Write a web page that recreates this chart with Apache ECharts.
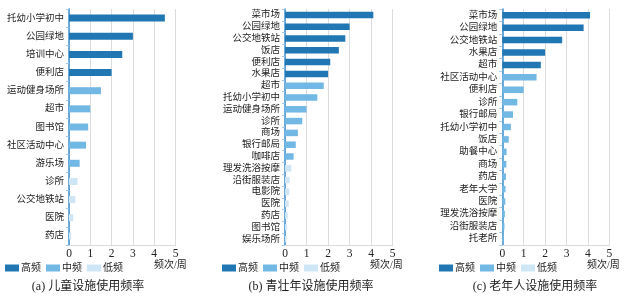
<!DOCTYPE html>
<html><head><meta charset="utf-8">
<script src="https://cdn.jsdelivr.net/npm/echarts@6/dist/echarts.min.js"></script>
<style>html,body{margin:0;padding:0;background:#fff}#c{width:624px;height:299px}</style>
</head><body><div id="c"></div>
<script>
// Panel (a) 儿童
var catsA = ['托幼小学初中','公园绿地','培训中心','便利店','运动健身场所','超市','图书馆','社区活动中心','游乐场','诊所','公交地铁站','医院','药店'];
var valsA = [4.5, 3.0, 2.5, 2.0, 1.5, 1.0, 0.9, 0.8, 0.5, 0.4, 0.3, 0.2, 0.1];
var lvlA  = ['高频','高频','高频','高频','中频','中频','中频','中频','中频','低频','低频','低频','低频'];
// Panel (b) 青壮年
var catsB = ['菜市场','公园绿地','公交地铁站','饭店','便利店','水果店','超市','托幼小学初中','运动健身场所','诊所','商场','银行邮局','咖啡店','理发洗浴按摩','沿街服装店','电影院','医院','药店','图书馆','娱乐场所'];
var valsB = [4.1, 3.0, 2.8, 2.5, 2.1, 2.0, 1.8, 1.5, 1.0, 0.8, 0.6, 0.5, 0.4, 0.3, 0.22, 0.2, 0.17, 0.13, 0.1, 0.07];
var lvlB  = ['高频','高频','高频','高频','高频','高频','中频','中频','中频','中频','中频','中频','中频','低频','低频','低频','低频','低频','低频','低频'];
// Panel (c) 老年人
var catsC = ['菜市场','公园绿地','公交地铁站','水果店','超市','社区活动中心','便利店','诊所','银行邮局','托幼小学初中','饭店','助餐中心','商场','药店','老年大学','医院','理发洗浴按摩','沿街服装店','托老所'];
var valsC = [4.1, 3.8, 2.8, 2.0, 1.8, 1.6, 1.0, 0.7, 0.5, 0.4, 0.3, 0.2, 0.19, 0.17, 0.15, 0.14, 0.12, 0.1, 0.07];
var lvlC  = ['高频','高频','高频','高频','高频','中频','中频','中频','中频','中频','中频','中频','中频','中频','中频','中频','中频','中频','中频'];

var levels = ['高频','中频','低频'];
var xTicks = [0,1,2,3,4,5];
var captions = ['(a) 儿童设施使用频率','(b) 青壮年设施使用频率','(c) 老年人设施使用频率'];
var unitLabel = '频次/周';

var colors = {'高频':'#2077b3','中频':'#72b8e4','低频':'#cfe6f6'};
var FONT = '"Liberation Serif","Noto Sans CJK SC",serif';

var panels = [
  {cats:catsA, vals:valsA, lvl:lvlA, left:69, width:106.5, bw:7, fs:9.5, legLeft:5, unitX:154, capX:88},
  {cats:catsB, vals:valsB, lvl:lvlB, left:285, width:107.7, bw:6.5, fs:9.5, legLeft:222, unitX:370, capX:311},
  {cats:catsC, vals:valsC, lvl:lvlC, left:502.3, width:107, bw:6.5, fs:9.5, legLeft:439, unitX:587, capX:535}
];

var option = {animation:false, grid:[], xAxis:[], yAxis:[], series:[], legend:[], graphic:[]};
panels.forEach(function(p, i){
  option.grid.push({left:p.left, width:p.width, top:9, height:236});
  option.xAxis.push({gridIndex:i, type:'value', min:xTicks[0], max:xTicks[xTicks.length-1], interval:1,
    axisLine:{show:true, lineStyle:{color:'#d9d9d9'}}, axisTick:{show:false},
    splitLine:{show:true, lineStyle:{color:'#dcdcdc', width:1}},
    axisLabel:{fontFamily:FONT, fontSize:11.5, color:'#222', margin:3}});
  option.yAxis.push({gridIndex:i, type:'category', data:p.cats, inverse:true,
    axisLine:{show:true, lineStyle:{color:'#3b8fd0', width:1.5}},
    axisTick:{show:true, length:3, lineStyle:{color:'#9cc7ea'}},
    axisLabel:{interval:0, fontFamily:FONT, fontSize:p.fs, color:'#222', margin:5}});
  levels.forEach(function(lv){
    option.series.push({type:'bar', name:lv, xAxisIndex:i, yAxisIndex:i, stack:'s'+i, barWidth:p.bw,
      itemStyle:{color:colors[lv]},
      data:p.vals.map(function(v,k){ return p.lvl[k]===lv ? v : null; })});
  });
  option.legend.push({left:p.legLeft, top:263, padding:0, itemWidth:14, itemHeight:7, itemGap:5, icon:'rect',
    data:levels, selectedMode:false,
    textStyle:{fontFamily:FONT, fontSize:10, color:'#222', padding:[0,0,0,-3]}});
  option.graphic.push({type:'text', left:p.unitX, top:260,
    style:{text:unitLabel, font:'10px '+FONT, fill:'#222'}});
  option.graphic.push({type:'text', x:p.capX, y:287,
    style:{text:captions[i], font:'12px '+FONT, fill:'#222', textAlign:'center', textVerticalAlign:'middle'}});
});

var chart = echarts.init(document.getElementById('c'), null, {renderer:'canvas'});
chart.setOption(option);
</script></body></html>
